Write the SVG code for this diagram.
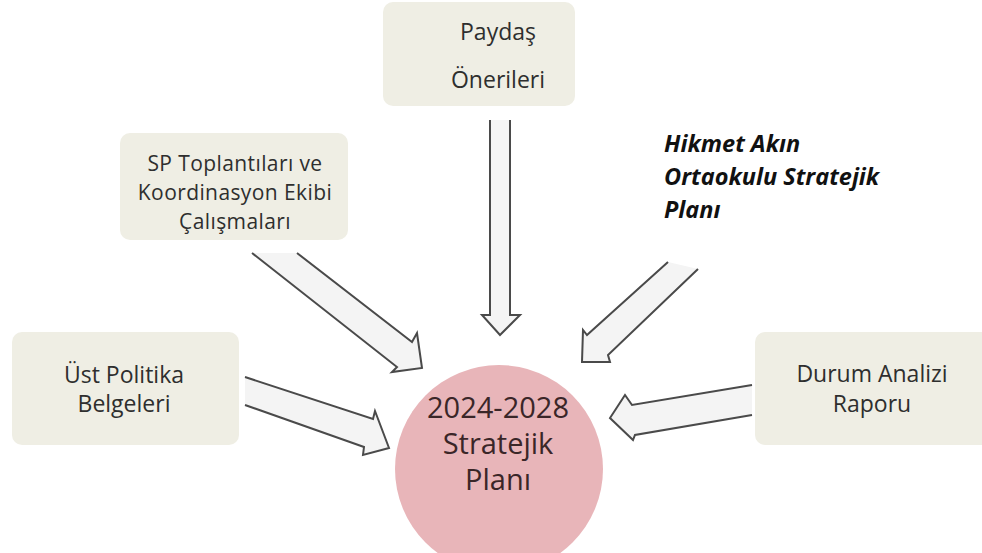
<svg xmlns="http://www.w3.org/2000/svg" width="982" height="553" viewBox="0 0 982 553">
<style>
.box{fill:#efeee4;}
.lbl{font-family:"Open Sans","Noto Sans",sans-serif;font-size:23px;fill:#2e2e2e;text-anchor:middle;}
.sm{font-size:21px;letter-spacing:0.4px;}
.arr{fill:#f4f4f4;stroke:#4a4a4a;stroke-width:2;stroke-linejoin:miter;}
.hk{font-family:"Open Sans","Noto Sans",sans-serif;font-size:23.5px;font-weight:bold;font-style:italic;fill:#111;}
.ctr{font-family:"Open Sans","Noto Sans",sans-serif;font-size:29px;fill:#3a2628;text-anchor:middle;}
</style>
<rect width="982" height="553" fill="#ffffff"/>
<g id="connectors">
<path class="arr" d="M490,120 L490,315 L482,315 L500,335 L520,315 L510,315 L510,120"/>
<path class="arr" d="M252,253 L397,367 L392,372 L422,368 L417,333 L412,342 L297,253"/>
<path class="arr" d="M668,262 L587,335 L583,330 L582,362 L610,362 L608,355 L698,269"/>
<path class="arr" d="M245,377 L373,419 L375,411 L389,448 L363,455 L364,447 L245,405"/>
<path class="arr" d="M752,385 L632,405 L625,395 L610,418 L633,440 L635,435 L752,415"/>
</g>
<g id="paydas">
<rect class="box" x="383" y="2" width="192" height="104" rx="10"/>
<text class="lbl" x="498" y="40">Paydaş</text>
<text class="lbl" x="498" y="88">Önerileri</text>
</g>
<g id="sp">
<rect class="box" x="120" y="133" width="228" height="107" rx="10"/>
<text class="lbl sm" x="235" y="171">SP Toplantıları ve</text>
<text class="lbl sm" x="235" y="200">Koordinasyon Ekibi</text>
<text class="lbl sm" x="235" y="229">Çalışmaları</text>
</g>
<g id="hikmet">
<text class="hk" x="664" y="152">Hikmet Akın</text>
<text class="hk" x="664" y="185">Ortaokulu Stratejik</text>
<text class="hk" x="664" y="218">Planı</text>
</g>
<g id="ust">
<rect class="box" x="12" y="332" width="227" height="113" rx="10"/>
<text class="lbl" x="124" y="383">Üst Politika</text>
<text class="lbl" x="124" y="412">Belgeleri</text>
</g>
<g id="durum">
<rect class="box" x="755" y="332" width="240" height="113" rx="10"/>
<text class="lbl" x="872" y="382">Durum Analizi</text>
<text class="lbl" x="872" y="412">Raporu</text>
</g>
<g id="center">
<circle cx="499" cy="469" r="104" fill="#e8b5b9"/>
<text class="ctr" x="498" y="418">2024-2028</text>
<text class="ctr" x="498" y="454">Stratejik</text>
<text class="ctr" x="498" y="490">Planı</text>
</g>
</svg>
